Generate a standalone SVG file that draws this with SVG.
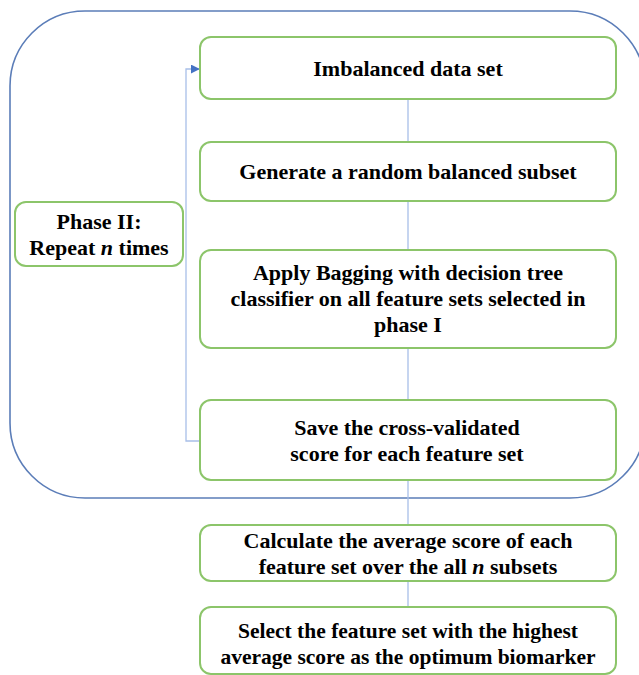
<svg xmlns="http://www.w3.org/2000/svg" width="639" height="675" viewBox="0 0 639 675">
<defs>
<style>
.box{fill:#fff;stroke:#8CC56A;stroke-width:2}
.t{font-family:"Liberation Serif","Times New Roman",serif;font-weight:bold;font-size:22px;fill:#000;text-anchor:middle}
.c{fill:none;stroke:#A8BFE8;stroke-width:1.3}
</style>
<marker id="ah" viewBox="0 0 10 10" refX="9" refY="5" markerWidth="9" markerHeight="9" markerUnits="userSpaceOnUse" orient="auto">
<path d="M0,0 L10,5 L0,10 z" fill="#4472C4"/>
</marker>
</defs>
<rect id="container" x="10" y="11" width="635" height="487" rx="75" ry="75" fill="none" stroke="#5B7DB8" stroke-width="1.6"/>
<g id="connectors">
<line class="c" x1="408" y1="99" x2="408" y2="142"/>
<line class="c" x1="408" y1="201" x2="408" y2="250"/>
<line class="c" x1="408" y1="348" x2="408" y2="400"/>
<line class="c" x1="408" y1="480" x2="408" y2="525"/>
<line class="c" x1="408" y1="581" x2="408" y2="607"/>
<polyline class="c" points="200,441 186,441 186,69 199,69" marker-end="url(#ah)"/>
</g>
<g id="n1"><rect class="box" x="200" y="37" width="416" height="62" rx="11"/><text class="t" x="408" y="76">Imbalanced data set</text></g>
<g id="n2"><rect class="box" x="200" y="142" width="416" height="59" rx="11"/><text class="t" x="408" y="179">Generate a random balanced subset</text></g>
<g id="n3"><rect class="box" x="200" y="250" width="416" height="98" rx="11"/><text class="t" x="408" y="280">Apply Bagging with decision tree</text><text class="t" x="408" y="306">classifier on all feature sets selected in</text><text class="t" x="408" y="332">phase I</text></g>
<g id="n4"><rect class="box" x="200" y="400" width="416" height="80" rx="11"/><text class="t" x="407" y="435">Save the cross-validated</text><text class="t" x="407" y="461">score for each feature set</text></g>
<g id="n5"><rect class="box" x="200" y="525" width="416" height="56" rx="11"/><text class="t" x="408" y="548">Calculate the average score of each</text><text class="t" x="408" y="574">feature set over the all <tspan font-style="italic">n</tspan> subsets</text></g>
<g id="n6"><rect class="box" x="200" y="607" width="416" height="67" rx="11"/><text class="t" x="408" y="638" style="font-size:21.5px">Select the feature set with the highest</text><text class="t" x="408" y="664" style="font-size:21.5px">average score as the optimum biomarker</text></g>
<g id="phase"><rect class="box" x="15" y="202" width="168" height="64" rx="11"/><text class="t" x="99" y="229">Phase II:</text><text class="t" x="99" y="255">Repeat <tspan font-style="italic">n</tspan> times</text></g>
</svg>
